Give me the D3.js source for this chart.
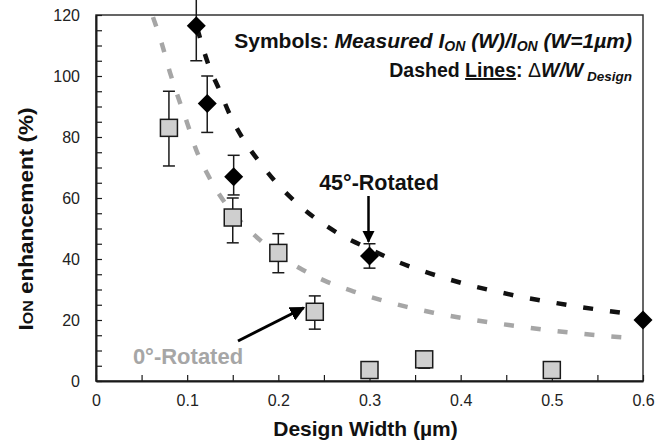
<!DOCTYPE html>
<html>
<head>
<meta charset="utf-8">
<script src="https://cdn.jsdelivr.net/npm/d3@7"></script>
<style>
  html, body { margin: 0; padding: 0; background: #fff; }
  svg { display: block; }
  text { font-family: "Liberation Sans", Arial, Helvetica, sans-serif; }
</style>
</head>
<body>
<svg id="chart" width="672" height="443"></svg>
<script>
// ---------------- DATA ----------------
// 45°-Rotated measured points (black diamonds)
const rot45X = [0.11, 0.122, 0.151, 0.30, 0.60];
const rot45Y = [116.5, 91, 67, 41, 20];
const rot45Hi = [128, 100, 74, 45, null];
const rot45Lo = [105, 81.5, 61, 37, null];

// 0°-Rotated measured points (grey squares)
const rot0X = [0.08, 0.15, 0.20, 0.24, 0.30, 0.36, 0.50];
const rot0Y = [83, 53.6, 42, 22.7, 3.6, 7.1, 3.6];
const rot0Hi = [95, 60, 48.3, 27.9, null, null, null];
const rot0Lo = [70.5, 45.3, 35.5, 17, null, 4.2, null];

// Dashed lines: ΔW/W_Design
const line45X = [0.111, 0.123, 0.136, 0.147, 0.161, 0.182, 0.199, 0.220, 0.240, 0.268, 0.300, 0.322, 0.352, 0.381, 0.410, 0.440, 0.468, 0.498, 0.528, 0.556, 0.586];
const line45Y = [115.7, 104, 95, 87.2, 79.5, 70.8, 64.6, 58.4, 53.5, 48.0, 43.3, 40.2, 36.7, 33.9, 31.4, 29.3, 27.5, 25.9, 24.4, 23.2, 22.0];
const line0X = [0.0625, 0.072, 0.081, 0.090, 0.100, 0.109, 0.122, 0.136, 0.158, 0.180, 0.204, 0.227, 0.253, 0.282, 0.312, 0.341, 0.370, 0.403, 0.432, 0.462, 0.490, 0.520, 0.550, 0.580];
const line0Y = [119.3, 110.8, 101.3, 93.1, 84.6, 76.5, 68.0, 60.8, 52.5, 46.2, 40.6, 36.4, 32.6, 29.4, 26.6, 24.3, 22.4, 20.6, 19.2, 18.0, 16.9, 15.9, 15.0, 14.3];

// Axis ticks
const xTicks = [0, 0.05, 0.1, 0.15, 0.2, 0.25, 0.3, 0.35, 0.4, 0.45, 0.5, 0.55, 0.6];
const xLabels = [0, 0.1, 0.2, 0.3, 0.4, 0.5, 0.6];
const yTicks = d3.range(0, 121, 5);
const yLabels = [0, 20, 40, 60, 80, 100, 120];

// ---------------- LAYOUT ----------------
const svg = d3.select("#chart");
const L = 96, R = 643, T = 15, B = 381;
const x = d3.scaleLinear().domain([0, 0.6]).range([L, R]);
const y = d3.scaleLinear().domain([0, 120]).range([B, T]);

const dark = "#1a1a1a";
const grey = "#a6a6a6";

// frame
svg.append("rect").attr("x", L).attr("y", T).attr("width", R - L).attr("height", B - T)
  .attr("fill", "none").attr("stroke", "#333").attr("stroke-width", 1.5);

// axes
const xAxis = d3.axisBottom(x).tickValues(xTicks).tickSizeInner(-6).tickSizeOuter(0).tickPadding(14)
  .tickFormat(d => xLabels.some(v => Math.abs(v - d) < 1e-9) ? (d === 0 ? "0" : d3.format(".1f")(d)) : "");
const gx = svg.append("g").attr("transform", `translate(0,${B})`).call(xAxis);
const yAxis = d3.axisLeft(y).tickValues(yTicks).tickSizeInner(-6).tickSizeOuter(0).tickPadding(16)
  .tickFormat(d => yLabels.includes(d) ? String(d) : "");
const gy = svg.append("g").attr("transform", `translate(${L},0)`).call(yAxis);
[gx, gy].forEach(g => {
  g.select(".domain").attr("stroke", dark).attr("stroke-width", 2);
  g.selectAll(".tick line").attr("stroke", dark).attr("stroke-width", 1.2);
  g.selectAll(".tick text").attr("fill", "#222").attr("font-size", 16)
    .attr("font-family", '"Liberation Sans", Arial, sans-serif');
});
gx.selectAll(".tick text").attr("dy", "0.71em");

// dashed lines
const lineGen = d3.line().x(d => x(d[0])).y(d => y(d[1])).curve(d3.curveMonotoneX);
svg.append("path").datum(d3.zip(line0X, line0Y)).attr("d", lineGen)
  .attr("fill", "none").attr("stroke", grey).attr("stroke-width", 4.5).attr("stroke-dasharray", "10,17");
svg.append("path").datum(d3.zip(line45X, line45Y)).attr("d", lineGen)
  .attr("fill", "none").attr("stroke", "#111").attr("stroke-width", 4.5).attr("stroke-dasharray", "10,17");

// error bars
function errorBars(xs, his, los) {
  const g = svg.append("g").attr("stroke", dark).attr("stroke-width", 1.5);
  xs.forEach((xv, i) => {
    const hi = his[i], lo = los[i];
    if (hi == null && lo == null) return;
    const top = hi == null ? null : y(hi), bot = lo == null ? null : y(lo);
    if (top != null && bot != null) {
      g.append("line").attr("x1", x(xv)).attr("x2", x(xv)).attr("y1", top).attr("y2", bot);
    } else if (bot != null) {
      g.append("line").attr("x1", x(xv)).attr("x2", x(xv)).attr("y1", bot - 6).attr("y2", bot);
    }
    if (top != null && hi <= 120) g.append("line").attr("x1", x(xv) - 6).attr("x2", x(xv) + 6).attr("y1", top).attr("y2", top);
    if (bot != null) g.append("line").attr("x1", x(xv) - 6).attr("x2", x(xv) + 6).attr("y1", bot).attr("y2", bot);
  });
}
errorBars(rot0X, rot0Hi, rot0Lo);
errorBars(rot45X, rot45Hi, rot45Lo);

// squares
svg.append("g").selectAll("rect").data(d3.zip(rot0X, rot0Y)).join("rect")
  .attr("x", d => x(d[0]) - 8.5).attr("y", d => y(d[1]) - 8.5)
  .attr("width", 17).attr("height", 17)
  .attr("fill", "#cfcfcf").attr("stroke", dark).attr("stroke-width", 1.5);

// diamonds
svg.append("g").selectAll("path").data(d3.zip(rot45X, rot45Y)).join("path")
  .attr("transform", d => `translate(${x(d[0])},${y(d[1])})`)
  .attr("d", "M0,-9.5L9.5,0L0,9.5L-9.5,0Z")
  .attr("fill", "#000");

// ---------------- TEXT ----------------
// axis titles
svg.append("text")
  .attr("x", (L + R) / 2 - 4).attr("y", 436)
  .attr("text-anchor", "middle").attr("font-size", 21).attr("font-weight", "bold").attr("fill", "#111")
  .text("Design Width (µm)");

const yt = svg.append("text")
  .attr("transform", `translate(33,${219}) scale(1,1.1) rotate(-90)`)
  .attr("text-anchor", "middle").attr("font-size", 20.5).attr("font-weight", "bold").attr("fill", "#111");
yt.append("tspan").text("I");
yt.append("tspan").attr("font-size", 14.5).text("ON");
yt.append("tspan").text(" enhancement (%)");

// Symbols annotation
const t1 = svg.append("text").attr("x", 632).attr("y", 48).attr("text-anchor", "end")
  .attr("font-size", 21).attr("font-weight", "bold").attr("fill", "#111");
t1.append("tspan").text("Symbols: ");
t1.append("tspan").attr("font-style", "italic").text("Measured I");
t1.append("tspan").attr("font-style", "italic").attr("font-size", 14).attr("dy", 3).text("ON");
t1.append("tspan").attr("font-style", "italic").attr("dy", -3).text(" (W)/I");
t1.append("tspan").attr("font-style", "italic").attr("font-size", 14).attr("dy", 3).text("ON");
t1.append("tspan").attr("font-style", "italic").attr("dy", -3).text(" (W=1µm)");

const t2 = svg.append("text").attr("x", 632).attr("y", 77).attr("text-anchor", "end")
  .attr("font-size", 19.5).attr("font-weight", "bold").attr("fill", "#111");
t2.append("tspan").text("Dashed ");
t2.append("tspan").attr("text-decoration", "underline").text("Lines");
t2.append("tspan").text(": ");
t2.append("tspan").attr("font-weight", "normal").text("Δ");
t2.append("tspan").attr("font-style", "italic").text("W/W");
t2.append("tspan").attr("font-style", "italic").attr("font-size", 13.5).attr("dy", 4).text(" Design");

// series labels
svg.append("text").attr("x", 379).attr("y", 190).attr("text-anchor", "middle")
  .attr("font-size", 21.5).attr("font-weight", "bold").attr("fill", "#111").text("45°-Rotated");
svg.append("text").attr("x", 188).attr("y", 364).attr("text-anchor", "middle")
  .attr("font-size", 22).attr("font-weight", "bold").attr("fill", grey).text("0°-Rotated");

// arrows
svg.append("defs").append("marker").attr("id", "ah").attr("viewBox", "0 0 10 10")
  .attr("refX", 9).attr("refY", 5).attr("markerWidth", 5).attr("markerHeight", 5)
  .attr("markerUnits", "strokeWidth").attr("orient", "auto")
  .append("path").attr("d", "M0,0L10,5L0,10Z").attr("fill", "#000");
svg.append("line").attr("x1", x(0.30) - 1).attr("y1", 196).attr("x2", x(0.30) - 1).attr("y2", y(45) - 2)
  .attr("stroke", "#000").attr("stroke-width", 2.5).attr("marker-end", "url(#ah)");
svg.append("line").attr("x1", 238).attr("y1", 341).attr("x2", x(0.24) - 11).attr("y2", y(22.7) - 4)
  .attr("stroke", "#000").attr("stroke-width", 3).attr("marker-end", "url(#ah)");
</script>
</body>
</html>
